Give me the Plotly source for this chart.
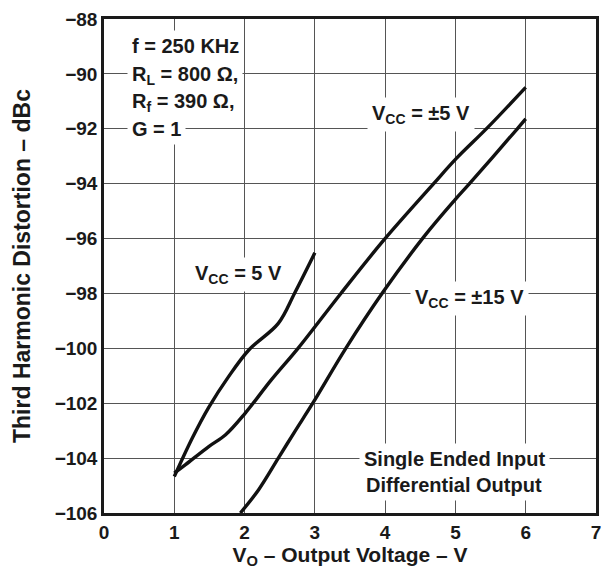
import plotly.graph_objects as go

# VCC = 5 V
x_5v = [1.0, 1.26, 1.49, 1.77, 2.06, 2.48, 2.71, 3.0]
y_5v = [-104.67, -103.25, -102.15, -101.04, -100.06, -99.09, -98.0, -96.52]

# VCC = ±5 V
x_pm5 = [1.0, 1.16, 1.49, 1.73, 2.01, 2.38, 2.76, 3.37, 3.98, 4.69, 5.01, 5.46, 6.0]
y_pm5 = [-104.55, -104.24, -103.58, -103.15, -102.36, -101.15, -100.0, -98.0, -96.06, -94.0, -93.09, -91.95, -90.49]

# VCC = ±15 V
x_pm15 = [1.94, 2.2, 2.48, 2.71, 2.97, 3.44, 3.97, 4.55, 4.99, 5.2, 5.88, 6.0]
y_pm15 = [-106.0, -105.15, -104.0, -103.05, -102.0, -100.0, -97.95, -95.94, -94.6, -94.0, -92.0, -91.64]

x_ticks = [0, 1, 2, 3, 4, 5, 6, 7]
y_ticks = [-88, -90, -92, -94, -96, -98, -100, -102, -104, -106]

FONT = "Liberation Sans, Arial, sans-serif"

fig = go.Figure()
for xs, ys in [(x_5v, y_5v), (x_pm5, y_pm5), (x_pm15, y_pm15)]:
    fig.add_trace(go.Scatter(x=xs, y=ys, mode="lines",
                             line=dict(color="#111111", width=3.4, shape="spline", smoothing=1.0),
                             showlegend=False, hoverinfo="skip"))

def ann(text, x, y, xanchor="left", size=20):
    fig.add_annotation(x=x, y=y, text=text, showarrow=False, xanchor=xanchor, yanchor="middle",
                       font=dict(family=FONT, size=size, color="#1a1a1a"), bgcolor="white", borderpad=4)

ann("<b>f = 250 KHz</b>", 0.33, -88.97)
ann("<b>R<sub>L</sub> = 800 Ω,</b>", 0.33, -90.05)
ann("<b>R<sub>f</sub> = 390 Ω,</b>", 0.33, -91.03)
ann("<b>G = 1</b>", 0.33, -91.99)
ann("<b>V<sub>CC</sub> = ±5 V</b>", 3.74, -91.48)
ann("<b>V<sub>CC</sub> = 5 V</b>", 1.22, -97.3)
ann("<b>V<sub>CC</sub> = ±15 V</b>", 4.35, -98.2)
ann("<b>Single Ended Input</b>", 4.98, -104.03, xanchor="center")
ann("<b>Differential Output</b>", 4.98, -104.98, xanchor="center")

axis_common = dict(showline=True, linecolor="#1a1a1a", linewidth=2.5, mirror=True,
                   showgrid=True, gridcolor="#555555", gridwidth=1.2, zeroline=False, ticks="",
                   tickfont=dict(family=FONT, size=19, color="#1a1a1a"))

fig.update_xaxes(range=[0, 7], tickvals=x_ticks, ticktext=[f"<b>{v}</b>" for v in x_ticks],
                 title=dict(text="<b>V<sub>O</sub> – Output Voltage – V</b>",
                            font=dict(family=FONT, size=21, color="#1a1a1a"), standoff=5),
                 **axis_common)
fig.update_yaxes(range=[-106, -88], tickvals=y_ticks, ticktext=[f"<b>−{abs(v)}</b>" for v in y_ticks],
                 title=dict(text="<b>Third Harmonic Distortion – dBc</b>",
                            font=dict(family=FONT, size=23, color="#1a1a1a"), standoff=18),
                 **axis_common)

fig.update_layout(width=610, height=572, margin=dict(l=104, r=9, t=18, b=59),
                  plot_bgcolor="white", paper_bgcolor="white")

fig.write_html("out.html", config={"displayModeBar": False},
               post_script="document.body.style.margin='0';")
